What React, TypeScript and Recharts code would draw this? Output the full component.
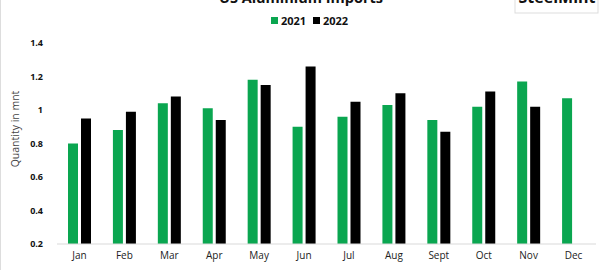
import { BarChart, Bar, XAxis, YAxis } from 'recharts';

const MONTHS = ['Jan', 'Feb', 'Mar', 'Apr', 'May', 'Jun', 'Jul', 'Aug', 'Sept', 'Oct', 'Nov', 'Dec'];
const IMPORTS_2021 = [0.8, 0.88, 1.04, 1.01, 1.18, 0.9, 0.96, 1.03, 0.94, 1.02, 1.17, 1.07];
const IMPORTS_2022 = [0.95, 0.99, 1.08, 0.94, 1.15, 1.26, 1.05, 1.1, 0.87, 1.11, 1.02, null];
const Y_TICKS = [0.2, 0.4, 0.6, 0.8, 1, 1.2, 1.4];

const GREEN = '#0aa650';
const FONT = '"Open Sans", Lato, sans-serif';

const data = MONTHS.map((m, i) => ({ month: m, y2021: IMPORTS_2021[i], y2022: IMPORTS_2022[i] }));

export default function App() {
  return (
    <div style={{ position: 'fixed', left: 0, top: 0, width: 604, height: 270, background: '#fff', fontFamily: FONT }}>
      <BarChart
        width={604}
        height={270}
        data={data}
        margin={{ top: 43, right: 8, bottom: 0, left: 0 }}
        barGap={3}
      >
        <XAxis
          dataKey="month"
          tickLine={false}
          tickSize={0}
          tickMargin={8}
          axisLine={{ stroke: '#d9d9d9' }}
          tick={{ fill: '#222', fontSize: 10, fontFamily: FONT }}
          interval={0}
          height={26}
        />
        <YAxis
          domain={[0.2, 1.4]}
          ticks={Y_TICKS}
          allowDataOverflow
          axisLine={false}
          tickLine={false}
          tickSize={0}
          tickMargin={14}
          width={57}
          tickFormatter={(v: number) => String(+v.toFixed(1))}
          tick={{ fill: '#111', fontSize: 9, fontWeight: 700, fontFamily: FONT }}
        />
        <Bar dataKey="y2021" name="2021" fill={GREEN} barSize={10} isAnimationActive={false} />
        <Bar dataKey="y2022" name="2022" fill="#000" barSize={10} isAnimationActive={false} />
      </BarChart>
      <svg width={604} height={270} style={{ position: 'absolute', left: 0, top: 0, pointerEvents: 'none' }}>
        <line x1={0.5} y1={0} x2={0.5} y2={270} stroke="#ddd" />
        <text
          x={19}
          y={129}
          transform="rotate(-90 19 129)"
          textAnchor="middle"
          fontSize={10.5}
          fill="#444"
          fontFamily={FONT}
        >
          Quantity in mnt
        </text>
        <text x={301} y={3} textAnchor="middle" fontSize={14.5} fontWeight={700} fill="#111" fontFamily={FONT}>
          US Aluminium Imports
        </text>
        <rect x={515} y={-10} width={83} height={23} fill="#fff" stroke="#ddd" />
        <text x={557} y={3} textAnchor="middle" fontSize={16} fontWeight={700} fill="#111" fontFamily={FONT}>
          SteelMint
        </text>
        <rect x={271} y={17} width={7} height={7} fill={GREEN} />
        <text x={281} y={25} fontSize={11} fontWeight={700} fill="#111" fontFamily={FONT}>2021</text>
        <rect x={313} y={17} width={7} height={7} fill="#000" />
        <text x={323} y={25} fontSize={11} fontWeight={700} fill="#111" fontFamily={FONT}>2022</text>
      </svg>
    </div>
  );
}
